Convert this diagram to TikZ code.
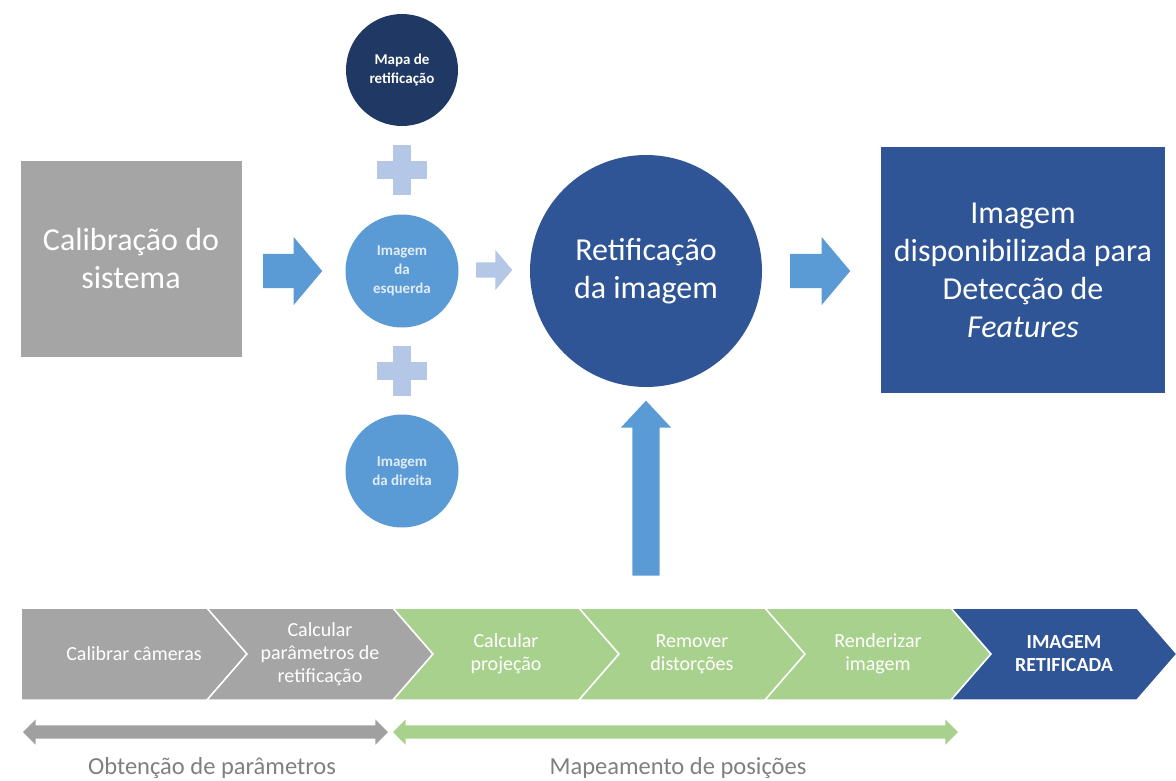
\documentclass[tikz,border=0pt]{standalone}
\usepackage{fontspec}
\setmainfont{Carlito}
\usepackage{tikz}
\usetikzlibrary{shapes.arrows}

\definecolor{cinza}{HTML}{A5A5A5}
\definecolor{cinzaseta}{HTML}{A0A0A0}
\definecolor{verde}{HTML}{A9D18E}
\definecolor{azul}{HTML}{5B9BD5}
\definecolor{azulclaro}{HTML}{B4C7E7}
\definecolor{azulescuro}{HTML}{2F5597}
\definecolor{marinho}{HTML}{1F3864}
\definecolor{legenda}{HTML}{7F7F7F}
\definecolor{textoclaro}{HTML}{E2ECF8}

\begin{document}
\begin{tikzpicture}
  [ x=1pt, y=-1pt
  , box/.style={rectangle, inner sep=0pt, text=white, align=center, font=\fontsize{32}{38}\selectfont}
  , bigcircle/.style={circle, inner sep=0pt, minimum size=232pt, fill=azulescuro, text=white, align=center, font=\fontsize{32}{38}\selectfont}
  , small/.style={circle, inner sep=0pt, minimum size=113pt, align=center, font=\fontsize{15}{19}\selectfont\bfseries}
  , plus/.style={rectangle, inner sep=0pt, minimum size=50pt,
      path picture={\fill [azulclaro] ([xshift=-9pt]path picture bounding box.north) rectangle ([xshift=9pt]path picture bounding box.south);
                    \fill [azulclaro] ([yshift=-9pt]path picture bounding box.west) rectangle ([yshift=9pt]path picture bounding box.east);}}
  , blockarrow/.style={single arrow, inner xsep=0pt, single arrow tip angle=100}
  , band/.style={double arrow, inner xsep=0pt, inner ysep=6.5pt, double arrow head extend=6pt, double arrow tip angle=90}
  , chevron/.style={draw=white, line width=1.5pt}
  , stepname/.style={text=white, align=center, font=\fontsize{20}{23}\selectfont}
  , caption/.style={text=legenda, font=\fontsize{24.5}{29}\selectfont}]
  \useasboundingbox (0,0) rectangle (1176,780);
  \node (calib) at (131, 259) [box, fill=cinza, minimum width=221pt, minimum height=196pt] {Calibração do\\sistema};
  \node (seta1) at (285.5, 271) [blockarrow, fill=azul, minimum height=59pt, inner ysep=17pt, single arrow head extend=17pt] {};
  \node (mapa) at (402, 70) [small, fill=marinho, minimum size=112pt, text=white] {Mapa de\\retificação};
  \node (mais1) at (402, 170) [plus] {};
  \node (esq) at (402, 271) [small, fill=azul, text=textoclaro] {Imagem\\da\\esquerda};
  \node (mais2) at (402, 371) [plus] {};
  \node (dir) at (402, 471) [small, fill=azul, text=textoclaro] {Imagem\\da direita};
  \node (seta2) at (491, 270) [blockarrow, fill=azulclaro, minimum height=36pt, inner ysep=7.5pt, single arrow head extend=12.5pt] {};
  \node (retif) at (646, 271) [bigcircle] {Retificação\\da imagem};
  \node (seta3) at (813, 271) [blockarrow, fill=azul, minimum height=60pt, inner ysep=17pt, single arrow head extend=17pt] {};
  \node (saida) at (1023, 270) [box, fill=azulescuro, minimum width=284pt, minimum height=246pt] {Imagem\\disponibilizada para\\Detecção de\\\textit{Features}};
  \node (subida) at (646, 495.5) [blockarrow, fill=azul, rotate=90, minimum height=175pt, inner ysep=13.5pt, single arrow head extend=11.5pt, single arrow tip angle=86] {};
  % etapas
  \filldraw [chevron, fill=cinza] (21,608) -- (207,608) -- (247,654) -- (207,700) -- (21,700) -- cycle;
  \filldraw [chevron, fill=cinza] (207,608) -- (393,608) -- (433,654) -- (393,700) -- (207,700) -- (247,654) -- cycle;
  \filldraw [chevron, fill=verde] (393,608) -- (579,608) -- (619,654) -- (579,700) -- (393,700) -- (433,654) -- cycle;
  \filldraw [chevron, fill=verde] (579,608) -- (765,608) -- (805,654) -- (765,700) -- (579,700) -- (619,654) -- cycle;
  \filldraw [chevron, fill=verde] (765,608) -- (951,608) -- (991,654) -- (951,700) -- (765,700) -- (805,654) -- cycle;
  \filldraw [chevron, fill=azulescuro] (951,608) -- (1137,608) -- (1177,654) -- (1137,700) -- (951,700) -- (991,654) -- cycle;
  \node (etapa1) at (134, 654) [stepname] {Calibrar câmeras};
  \node (etapa2) at (320, 654) [stepname] {Calcular\\parâmetros de\\retificação};
  \node (etapa3) at (506, 654) [stepname] {Calcular\\projeção};
  \node (etapa4) at (692, 654) [stepname] {Remover\\distorções};
  \node (etapa5) at (878, 654) [stepname] {Renderizar\\imagem};
  \node (etapa6) at (1064, 654) [stepname, font=\fontsize{20}{23}\selectfont\bfseries] {IMAGEM\\RETIFICADA};
  \node (faixa1) at (205.5, 732) [band, fill=cinzaseta, minimum height=365pt] {};
  \node (faixa2) at (675.5, 732) [band, fill=verde, minimum height=565pt] {};
  \node (obtencao) at (212, 768) [caption] {Obtenção de parâmetros};
  \node (mapeamento) at (678, 768) [caption] {Mapeamento de posições};
\end{tikzpicture}
\end{document}
